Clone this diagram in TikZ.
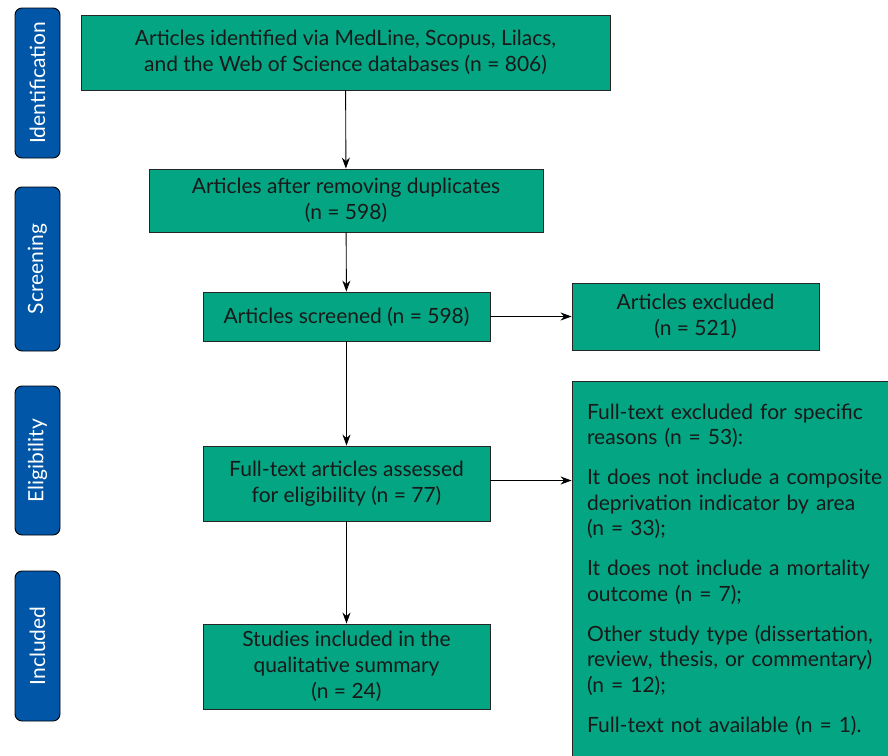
\documentclass[tikz,border=0pt]{standalone}
\usepackage{fontspec}
\setmainfont{Lato}
\usetikzlibrary{arrows.meta}
\definecolor{boxgreen}{HTML}{04A583}
\definecolor{sideblue}{HTML}{0256A7}
\begin{document}
\begin{tikzpicture}[x=1pt,y=-1pt,
  mainbox/.style={draw=black!85,line width=0.9pt,fill=boxgreen,align=center,inner sep=0pt,
    font=\fontsize{21}{26}\selectfont,text=black!90},
  sidebox/.style={draw=black,line width=0.9pt,fill=sideblue,rounded corners=7pt,inner sep=0pt,
    minimum width=45pt},
  sidetext/.style={rotate=90,text=white,font=\fontsize{21}{24}\selectfont},
  conn/.style={line width=0.9pt,-{Stealth[length=11pt,width=8pt]}}]
\useasboundingbox (0,0) rectangle (888,755);
% side labels
\node[sidebox,minimum height=150pt] (ident) at (37.5,83) {};
\node[sidetext] (identt) at (ident.center) {Identification};
\node[sidebox,minimum height=164pt] (scr) at (37.5,269) {};
\node[sidetext] (scrt) at (scr.center) {Screening};
\node[sidebox,minimum height=149pt] (elig) at (37.5,460.5) {};
\node[sidetext] (eligt) at (elig.center) {Eligibility};
\node[sidebox,minimum height=150pt] (incl) at (37.5,646) {};
\node[sidetext] (inclt) at (incl.center) {Included};
% main boxes
\node[mainbox,minimum width=529pt,minimum height=75pt] (b1) at (345.5,52.5)
  {Articles identified via MedLine, Scopus, Lilacs,\\and the Web of Science databases (n = 806)};
\node[mainbox,minimum width=394pt,minimum height=63pt] (b2) at (346,200.5)
  {Articles after removing duplicates\\(n = 598)};
\node[mainbox,minimum width=287pt,minimum height=49pt] (b3) at (346.5,316.5)
  {Articles screened (n = 598)};
\node[mainbox,minimum width=247pt,minimum height=67pt] (e1) at (695.5,316.5)
  {Articles excluded\\(n = 521)};
\node[mainbox,minimum width=287pt,minimum height=75pt] (b4) at (346.5,483.5)
  {Full-text articles assessed\\for eligibility (n = 77)};
\node[mainbox,minimum width=287pt,minimum height=85pt] (b5) at (346.5,666.5)
  {Studies included in the\\qualitative summary\\(n = 24)};
\node[mainbox,minimum width=318pt,minimum height=376pt,align=left,text width=318pt] (e2) at (731,569.5)
  {\hspace*{15pt}\begin{minipage}{300pt}\fontsize{21}{25.5}\selectfont
  Full-text excluded for specific\\reasons (n = 53):\\[14.5pt]
  It does not include a composite\\deprivation indicator by area\\(n = 33);\\[14.5pt]
  It does not include a mortality\\outcome (n = 7);\\[14.5pt]
  Other study type (dissertation,\\review, thesis, or commentary)\\(n = 12);\\[14.5pt]
  Full-text not available (n = 1).
  \end{minipage}};
% connectors
\draw[conn] (b1) -- (b2);
\draw[conn] (b2) -- (b3);
\draw[conn] (b3) -- (b4);
\draw[conn] (b4) -- (b5);
\draw[conn] (b3.east) -- (e1.west);
\draw[conn] ([yshift=3pt]b4.east) -- ([yshift=3pt]b4.east -| e2.west);
\end{tikzpicture}
\end{document}
